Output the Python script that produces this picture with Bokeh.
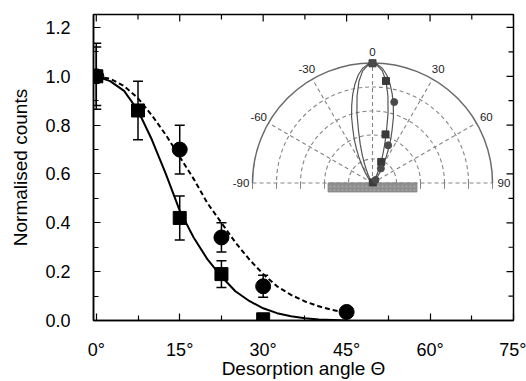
import numpy as np
from bokeh.plotting import figure
from bokeh.models import (Range1d, FixedTicker, Whisker, TeeHead,
                          ColumnDataSource)
from bokeh.embed import file_html
from bokeh.resources import INLINE
from bokeh.core.properties import value

# ---------------- data ----------------
sq_angle = [0, 7.5, 15, 22.5, 30]
sq_counts = [1.00, 0.86, 0.42, 0.19, 0.005]
sq_err = [0.12, 0.12, 0.09, 0.055, 0.0]

ci_angle = [0, 15, 22.5, 30, 45]
ci_counts = [1.00, 0.70, 0.34, 0.14, 0.035]
ci_err = [0.135, 0.10, 0.06, 0.045, 0.0]

fit_angle = [0, 2.5, 5, 7.5, 10, 12.5, 15, 17.5, 20, 22.5, 25, 27.5, 30,
             32.5, 35, 37.5, 40, 42.5, 45]
fit_solid = [1.00, 0.98, 0.94, 0.86, 0.74, 0.60, 0.45, 0.34, 0.25, 0.18,
             0.12, 0.08, 0.05, 0.03, 0.017, 0.009, 0.004, 0.002, 0.0]
fit_dashed = [1.00, 0.99, 0.96, 0.91, 0.84, 0.76, 0.67, 0.58, 0.48, 0.40,
              0.32, 0.25, 0.19, 0.14, 0.105, 0.078, 0.058, 0.043, 0.032]

x_ticks = [0, 15, 30, 45, 60, 75]
x_tick_labels = ["0°", "15°", "30°", "45°", "60°", "75°"]
x_minor = [7.5, 22.5, 37.5, 52.5, 67.5]
y_ticks = [0.0, 0.2, 0.4, 0.6, 0.8, 1.0, 1.2]
y_tick_labels = ["0.0", "0.2", "0.4", "0.6", "0.8", "1.0", "1.2"]
y_minor = [0.1, 0.3, 0.5, 0.7, 0.9, 1.1]
x_title = "Desorption angle Θ"
y_title = "Normalised counts"

polar_label_angles = [-90, -60, -30, 0, 30, 60, 90]
polar_label_texts = ["-90", "-60", "-30", "0", "30", "60", "90"]
polar_spoke_angles = [-60, -30, 0, 30, 60]
polar_rings = [0.2, 0.4, 0.6, 0.8]
polar_base_ticks = [-1.0, -0.8, -0.6, -0.4, -0.2, 0.2, 0.4, 0.6, 0.8, 1.0]

FONT = "Liberation Sans"
X_MIN, X_MAX = -0.5, 75
Y_MIN, Y_MAX = 0.0, 1.253

p = figure(width=526, height=381, x_range=Range1d(X_MIN, X_MAX),
           y_range=Range1d(Y_MIN, Y_MAX), output_backend="svg",
           toolbar_location=None, min_border_left=93, min_border_right=13,
           min_border_top=14, min_border_bottom=60)
p.xgrid.visible = False
p.ygrid.visible = False
p.outline_line_color = "black"
p.outline_line_width = 1.5
p.background_fill_color = "white"
p.border_fill_color = "white"

# --- axes ---
xa = p.xaxis[0]
xa.ticker = FixedTicker(ticks=x_ticks, minor_ticks=x_minor)
xa.major_label_overrides = {t: l for t, l in zip(x_ticks, x_tick_labels)}
xa.axis_label = x_title
ya = p.yaxis[0]
ya.ticker = FixedTicker(ticks=y_ticks, minor_ticks=y_minor)
ya.major_label_overrides = {t: l for t, l in zip(y_ticks, y_tick_labels)}
ya.axis_label = y_title

for ax in (xa, ya):
    ax.major_tick_in = 7
    ax.major_tick_out = 0
    ax.minor_tick_in = 5
    ax.minor_tick_out = 0
    ax.axis_line_width = 1.5
    ax.major_tick_line_width = 1.2
    ax.minor_tick_line_width = 1.2
    ax.major_label_text_font = FONT
    ax.major_label_text_font_size = "18px"
    ax.major_label_text_color = "black"
    ax.axis_label_text_font = FONT
    ax.axis_label_text_font_size = "19px"
    ax.axis_label_text_font_style = "normal"
    ax.axis_label_text_color = "black"
xa.major_label_standoff = 19
xa.axis_label_standoff = -5
ya.major_label_standoff = 23
ya.axis_label_standoff = 11

# inward ticks on the top and right frame edges (half of each dash is clipped)
p.scatter(x_ticks, [Y_MAX] * len(x_ticks), marker="dash", angle=np.pi / 2,
          size=14, line_color="black", line_width=1.2)
p.scatter(x_minor, [Y_MAX] * len(x_minor), marker="dash", angle=np.pi / 2,
          size=10, line_color="black", line_width=1.2)
p.scatter([X_MAX] * len(y_ticks), y_ticks, marker="dash",
          size=14, line_color="black", line_width=1.2)
p.scatter([X_MAX] * len(y_minor), y_minor, marker="dash",
          size=10, line_color="black", line_width=1.2)

# ---------------- inset polar plot ----------------
p.extra_x_ranges = {"polar": Range1d(-2.325, 1.175)}
p.extra_y_ranges = {"polar": Range1d(-1.15, 1.408)}
kw = dict(x_range_name="polar", y_range_name="polar")
grey = "#858585"

p.arc(x=[0] * len(polar_rings), y=[0] * len(polar_rings), radius=polar_rings,
      start_angle=0, end_angle=np.pi, line_color=grey, line_dash="4 3",
      line_width=1.1, **kw)
sa = np.radians(polar_spoke_angles)
p.segment(x0=0, y0=0, x1=np.sin(sa), y1=np.cos(sa), line_color=grey,
          line_dash="4 3", line_width=1.1, **kw)
p.segment(x0=[-1.0], y0=[0], x1=[1.0], y1=[0], line_color=grey,
          line_dash="4 3", line_width=1.1, **kw)
p.segment(x0=polar_base_ticks, y0=0, x1=polar_base_ticks, y1=-0.05,
          line_color=grey, line_width=1, **kw)
p.arc(x=[0], y=[0], radius=[1.0], start_angle=0, end_angle=np.pi,
      line_color="#6a6a6a", line_width=1.5, **kw)
# surface
p.quad(left=[-0.37], right=[0.37], bottom=[-0.075], top=[0.0],
       fill_color="#8e8e8e", line_color="#858585", hatch_pattern="dot",
       hatch_color="#a8a8a8", hatch_scale=4, **kw)

la = np.radians(polar_label_angles)
p.text(x=1.095 * np.sin(la), y=1.095 * np.cos(la), text=polar_label_texts,
       text_align="center", text_baseline="middle", text_font=value(FONT),
       text_font_size="11.5px", text_color="#1a1a1a", **kw)

fa = np.radians(np.array(fit_angle))
for vals in (fit_solid, fit_dashed):
    r = np.array(vals)
    ang = np.concatenate([-fa[::-1], fa[1:]])
    rr = np.concatenate([r[::-1], r[1:]])
    xs = np.concatenate([[0], rr * np.sin(ang), [0]])
    ys = np.concatenate([[0], rr * np.cos(ang), [0]])
    p.line(xs, ys, line_color="#555555", line_width=1.2, **kw)

sqa = np.radians(sq_angle)
p.scatter(np.array(sq_counts) * np.sin(sqa), np.array(sq_counts) * np.cos(sqa),
          marker="square", size=7, color="#3a3a3a", **kw)
cia = np.radians(ci_angle)
p.scatter(np.array(ci_counts) * np.sin(cia), np.array(ci_counts) * np.cos(cia),
          marker="circle", size=7, color="#4a4a4a", **kw)

# ---------------- main data ----------------
p.line(fit_angle, fit_dashed, line_color="black", line_width=2, line_dash="5 3")
p.line(fit_angle, fit_solid, line_color="black", line_width=2)

for xs, ys, es in ((sq_angle, sq_counts, sq_err), (ci_angle, ci_counts, ci_err)):
    src = ColumnDataSource(dict(
        base=[x for x, e in zip(xs, es) if e > 0],
        upper=[y + e for y, e in zip(ys, es) if e > 0],
        lower=[y - e for y, e in zip(ys, es) if e > 0]))
    w = Whisker(source=src, base="base", upper="upper", lower="lower",
                line_color="black", line_width=1.5,
                upper_head=TeeHead(size=10, line_width=1.5, line_color="black"),
                lower_head=TeeHead(size=10, line_width=1.5, line_color="black"))
    p.add_layout(w)

p.scatter(ci_angle, ci_counts, marker="circle", size=15, color="black")
p.scatter(sq_angle, sq_counts, marker="square", size=13, color="black")

open("out.html", "w").write(file_html(p, INLINE))
